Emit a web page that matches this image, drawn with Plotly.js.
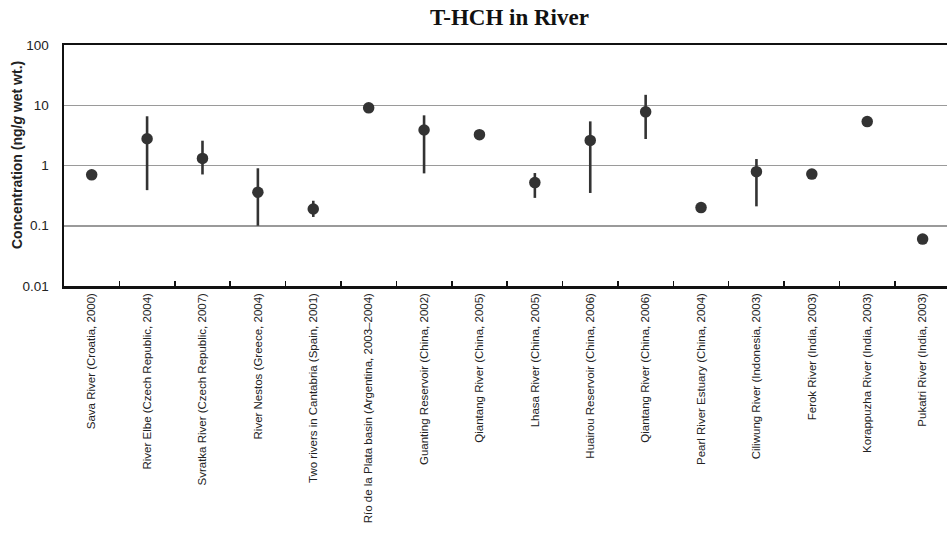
<!DOCTYPE html>
<html>
<head>
<meta charset="utf-8">
<script src="https://cdn.plot.ly/plotly-3.0.1.min.js"></script>
<style>html,body{margin:0;padding:0;background:#fff;}</style>
</head>
<body>
<div id="chart" style="width:947px;height:533px;"></div>
<script>
// Sampling sites (river, country, year)
const sites = [
  "Sava River (Croatia, 2000)",
  "River Elbe (Czech Republic, 2004)",
  "Svratka River (Czech Republic, 2007)",
  "River Nestos (Greece, 2004)",
  "Two rivers in Cantabria (Spain, 2001)",
  "Río de la Plata basin (Argentina, 2003–2004)",
  "Guanting Reservoir (China, 2002)",
  "Qiantang River (China, 2005)",
  "Lhasa River (China, 2005)",
  "Huairou Reservoir (China, 2006)",
  "Qiantang River (China, 2006)",
  "Pearl River Estuary (China, 2004)",
  "Ciliwung River (Indonesia, 2003)",
  "Ferok River (India, 2003)",
  "Korappuzha River (India, 2003)",
  "Pukatri River (India, 2003)"
];

// Mean T-HCH concentration (ng/g wet wt.)
const meanConc = [0.70, 2.78, 1.31, 0.36, 0.19, 9.05, 3.89, 3.25, 0.52, 2.61, 7.77, 0.20, 0.79, 0.72, 5.35, 0.06];
// Range maximum and minimum (null where only one value reported)
const maxConc = [null, 6.56, 2.58, 0.90, 0.26, null, 6.8, null, 0.75, 5.4, 14.9, null, 1.28, null, null, null];
const minConc = [null, 0.39, 0.71, 0.10, 0.14, null, 0.74, null, 0.29, 0.35, 2.75, null, 0.21, null, null, null];

const yTickVals = [0.01, 0.1, 1, 10, 100];
const yTickText = ["0.01", "0.1", "1", "10", "100"];

const errPlus = meanConc.map((m, i) => maxConc[i] === null ? 0 : maxConc[i] - m);
const errMinus = meanConc.map((m, i) => minConc[i] === null ? 0 : m - minConc[i]);

const trace = {
  type: "scatter",
  mode: "markers",
  x: sites,
  y: meanConc,
  marker: {color: "#333333", size: 11.5},
  error_y: {
    type: "data",
    symmetric: false,
    array: errPlus,
    arrayminus: errMinus,
    color: "#333333",
    thickness: 2.6,
    width: 0
  },
  hoverinfo: "x+y"
};

const layout = {
  width: 947,
  height: 533,
  margin: {l: 64, r: 0, t: 45, b: 247},
  paper_bgcolor: "#ffffff",
  plot_bgcolor: "#ffffff",
  showlegend: false,
  title: {
    text: "<b>T-HCH in River</b>",
    font: {family: "Liberation Serif, Times New Roman, serif", size: 23, color: "#111"},
    x: 0.538, xanchor: "center", y: 0.968, yanchor: "middle"
  },
  xaxis: {
    type: "category",
    range: [-0.5, 15.44],
    showline: true, linecolor: "#111", linewidth: 2.5, mirror: true,
    ticks: "inside", tickson: "boundaries", ticklen: 5, tickwidth: 1.5, tickcolor: "#111",
    tickangle: -90,
    tickfont: {family: "Liberation Sans Narrow, Arial Narrow, Arial, sans-serif", size: 11.5, color: "#222"},
    showgrid: false, zeroline: false, fixedrange: true
  },
  yaxis: {
    type: "log",
    range: [-2, 2],
    tickvals: yTickVals,
    ticktext: yTickText,
    showline: true, linecolor: "#111", linewidth: 2.5,
    ticks: "", ticklabelstandoff: 10,
    tickfont: {family: "Liberation Sans, Arial, sans-serif", size: 13.5, color: "#222"},
    showgrid: true, gridcolor: "#9a9a9a", gridwidth: 1.5,
    zeroline: false, fixedrange: true
  },
  annotations: [{
    text: "<b>Concentration (ng/<i>g</i> wet wt.)</b>",
    xref: "paper", yref: "paper",
    x: -0.0532, y: 0.5436,
    xanchor: "center", yanchor: "middle",
    textangle: -90, showarrow: false,
    font: {family: "Liberation Sans, Arial, sans-serif", size: 14, color: "#222"}
  }]
};

Plotly.newPlot("chart", [trace], layout, {displayModeBar: false, staticPlot: true});
</script>
</body>
</html>
